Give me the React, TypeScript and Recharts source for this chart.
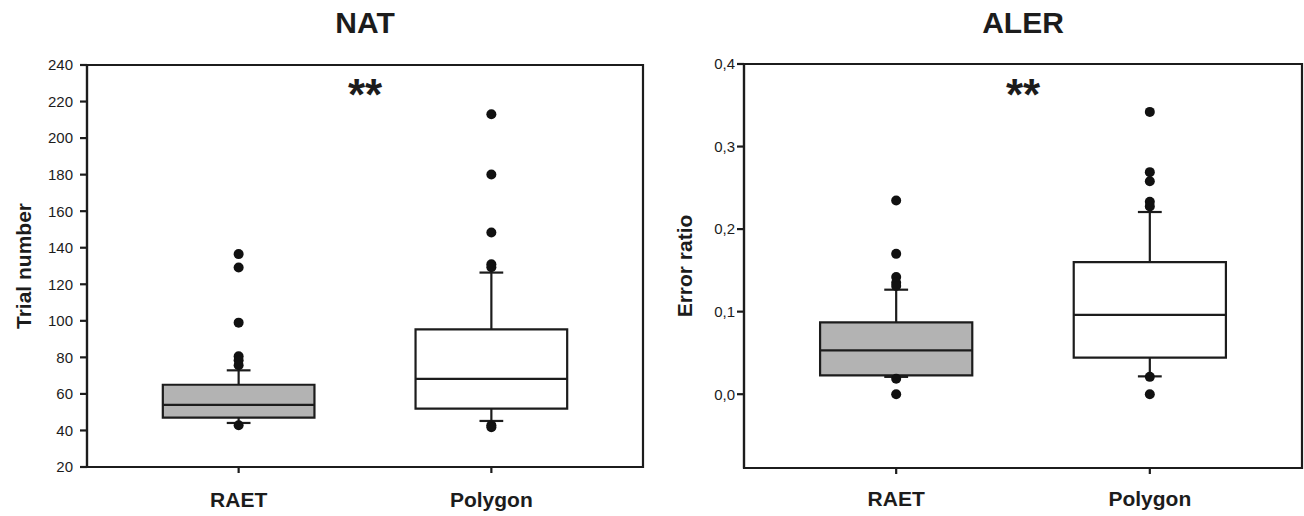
import React from "react";
import {
  ComposedChart,
  XAxis,
  YAxis,
  Scatter,
  ReferenceArea,
  ReferenceLine,
  ReferenceDot,
  Label,
} from "recharts";

// values
const categories = ["RAET", "Polygon"];

const natQ1 = [47.0, 52.0];
const natMedian = [54.0, 68.2];
const natQ3 = [65.0, 95.3];
const natLower = [44.1, 45.2];
const natUpper = [72.9, 126.4];
const natOutliers = [
  [136.5, 129.2, 99.0, 80.6, 78.4, 75.7, 42.8],
  [213.0, 180.1, 148.3, 131.0, 129.3, 42.8, 41.8],
];
const natTicks = [20, 40, 60, 80, 100, 120, 140, 160, 180, 200, 220, 240];

const alerQ1 = [0.0228, 0.0442];
const alerMedian = [0.053, 0.096];
const alerQ3 = [0.087, 0.16];
const alerLower = [0.021, 0.0216];
const alerUpper = [0.1266, 0.2207];
const alerOutliers = [
  [0.2346, 0.17, 0.142, 0.135, 0.131, 0.0188, 0.0],
  [0.342, 0.269, 0.258, 0.233, 0.2275, 0.021, 0.0],
];
const alerTicks = [0, 0.1, 0.2, 0.3, 0.4];

const significance = "**";

const font = '"Liberation Sans", Arial, Helvetica, sans-serif';
const ink = "#1c1c1c";
const boxFills = ["#b3b3b3", "#ffffff"];
const boxHalf = 0.3;
const capHalf = 0.047;
const xDomain: [number, number] = [0.4, 2.6];

const YTitle = (props: any) => {
  const { viewBox, value, dist } = props;
  const cx = viewBox.x + viewBox.width - dist;
  const cy = viewBox.y + viewBox.height / 2;
  return (
    <text
      x={cx}
      y={cy}
      transform={`rotate(-90, ${cx}, ${cy})`}
      textAnchor="middle"
      dominantBaseline="central"
      fontFamily={font}
      fontWeight="bold"
      fontSize={21}
      fill={ink}
    >
      {value}
    </text>
  );
};

const Stars = (props: any) => (
  <text
    x={props.cx}
    y={props.cy + 25}
    textAnchor="middle"
    fontFamily={font}
    fontWeight="bold"
    fontSize={44}
    fill={ink}
  >
    {significance}
  </text>
);

const Dot = (props: any) => (
  <circle cx={props.cx} cy={props.cy} r={5} fill="#111" />
);

interface PanelProps {
  left: number;
  title: string;
  yLabel: string;
  domain: [number, number];
  ticks: number[];
  fmt: (v: number) => string;
  q1: number[];
  median: number[];
  q3: number[];
  lower: number[];
  upper: number[];
  outliers: number[][];
  starY: number;
  top: number;
  axisW: number;
  rightPad: number;
  xAxisH: number;
  yTickGap: number;
  xTickGap: number;
  labelDist: number;
}

const BoxPanel = (p: PanelProps) => {
  const width = 660;
  const plotW = width - p.axisW - p.rightPad;
  const xs = categories.map((_, i) => i + 1);
  const dots = p.outliers.flatMap((vals, i) =>
    vals.map((v) => ({ x: xs[i], y: v }))
  );
  const line = { stroke: ink, strokeWidth: 2.2 };

  return (
    <div style={{ position: "absolute", left: p.left, top: 0, width, height: 516 }}>
      <div
        style={{
          position: "absolute",
          left: p.axisW,
          top: 8,
          width: plotW,
          textAlign: "center",
          font: `bold 30px/30px ${font}`,
          color: ink,
        }}
      >
        {p.title}
      </div>
      <ComposedChart
        width={width}
        height={516}
        margin={{ top: p.top, right: p.rightPad, bottom: 0, left: 0 }}
      >
        <XAxis
          type="number"
          dataKey="x"
          domain={xDomain}
          ticks={xs}
          tickFormatter={(v: number) => categories[v - 1]}
          height={p.xAxisH}
          tickSize={6}
          tickMargin={p.xTickGap}
          axisLine={line}
          tickLine={line}
          tick={{ fill: ink, fontFamily: font, fontWeight: "bold", fontSize: 21 }}
          allowDataOverflow
        />
        <YAxis
          type="number"
          domain={p.domain}
          ticks={p.ticks}
          tickFormatter={p.fmt}
          width={p.axisW}
          tickSize={7}
          tickMargin={p.yTickGap}
          axisLine={line}
          tickLine={line}
          tick={{ fill: ink, fontFamily: font, fontSize: 15 }}
          allowDataOverflow
        >
          <Label
            value={p.yLabel}
            content={(lp: any) => <YTitle {...lp} value={p.yLabel} dist={p.labelDist} />}
          />
        </YAxis>
        {/* plot frame */}
        <ReferenceArea
          x1={xDomain[0]}
          x2={xDomain[1]}
          y1={p.domain[0]}
          y2={p.domain[1]}
          fill="none"
          ifOverflow="visible"
          {...line}
        />
        {xs.map((x, i) => (
          <ReferenceLine
            key={`wu${i}`}
            segment={[{ x, y: p.q3[i] }, { x, y: p.upper[i] }]}
            {...line}
          />
        ))}
        {xs.map((x, i) => (
          <ReferenceLine
            key={`wl${i}`}
            segment={[{ x, y: p.q1[i] }, { x, y: p.lower[i] }]}
            {...line}
          />
        ))}
        {xs.map((x, i) => (
          <ReferenceLine
            key={`cu${i}`}
            segment={[
              { x: x - capHalf, y: p.upper[i] },
              { x: x + capHalf, y: p.upper[i] },
            ]}
            {...line}
          />
        ))}
        {xs.map((x, i) => (
          <ReferenceLine
            key={`cl${i}`}
            segment={[
              { x: x - capHalf, y: p.lower[i] },
              { x: x + capHalf, y: p.lower[i] },
            ]}
            {...line}
          />
        ))}
        {xs.map((x, i) => (
          <ReferenceArea
            key={`box${i}`}
            x1={x - boxHalf}
            x2={x + boxHalf}
            y1={p.q1[i]}
            y2={p.q3[i]}
            fill={boxFills[i]}
            fillOpacity={1}
            {...line}
          />
        ))}
        {xs.map((x, i) => (
          <ReferenceLine
            key={`med${i}`}
            segment={[
              { x: x - boxHalf, y: p.median[i] },
              { x: x + boxHalf, y: p.median[i] },
            ]}
            {...line}
          />
        ))}
        <Scatter data={dots} dataKey="y" shape={Dot} isAnimationActive={false} />
        <ReferenceDot x={1.5} y={p.starY} r={0} shape={Stars} />
      </ComposedChart>
    </div>
  );
};

export default function App() {
  return (
    <div
      style={{
        position: "absolute",
        left: 0,
        top: 0,
        width: 1304,
        height: 516,
        background: "#fff",
        overflow: "hidden",
      }}
    >
      <BoxPanel
        left={0}
        title="NAT"
        yLabel="Trial number"
        domain={[20, 240]}
        ticks={natTicks}
        fmt={(v) => String(v)}
        q1={natQ1}
        median={natMedian}
        q3={natQ3}
        lower={natLower}
        upper={natUpper}
        outliers={natOutliers}
        starY={229}
        top={65}
        axisW={87}
        rightPad={17}
        xAxisH={49}
        yTickGap={7}
        xTickGap={19}
        labelDist={64}
      />
      <BoxPanel
        left={644}
        title="ALER"
        yLabel="Error ratio"
        domain={[-0.0894, 0.4]}
        ticks={alerTicks}
        fmt={(v) => v.toFixed(1).replace(".", ",")}
        q1={alerQ1}
        median={alerMedian}
        q3={alerQ3}
        lower={alerLower}
        upper={alerUpper}
        outliers={alerOutliers}
        starY={0.375}
        top={64}
        axisW={100}
        rightPad={2}
        xAxisH={48}
        yTickGap={2}
        xTickGap={17}
        labelDist={60}
      />
    </div>
  );
}
